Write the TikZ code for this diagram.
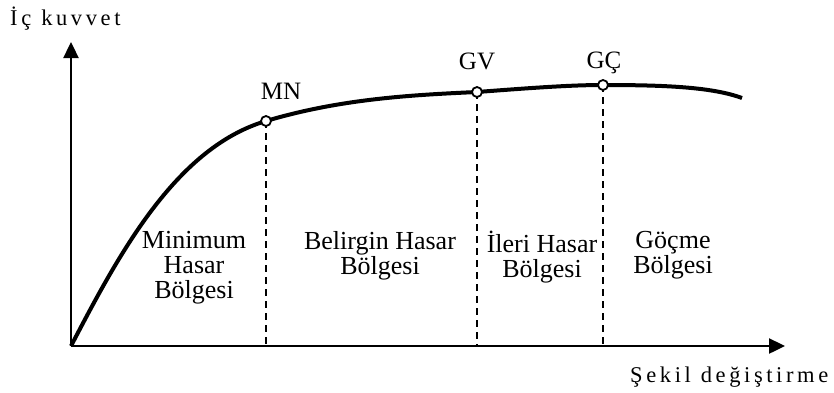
\documentclass[tikz,border=0pt]{standalone}
\usepackage{fontspec}
\setmainfont{Liberation Serif}
\usetikzlibrary{arrows.meta, positioning, calc}

% spread the letters of one word
\makeatletter
\newcommand{\spreadword}[1]{\@tfor\ch:=#1\do{\ch\kern3.6pt}\unkern}
\makeatother

\tikzset{
  axis/.style={line width=2.4pt, -{Triangle[length=16pt,width=15pt]}},
  curve/.style={line width=4pt},
  guide/.style={line width=1.3pt, dash pattern=on 7pt off 5pt},
  limitpt/.style={circle, draw, fill=white, line width=1.8pt, minimum size=10pt, inner sep=0pt},
  ptlabel/.style={font=\fontsize{25}{25}\selectfont, anchor=base, inner sep=0pt},
  zonelabel/.style={font=\fontsize{26}{25}\selectfont, align=center, anchor=north, inner sep=0pt},
  axislabel/.style={font=\fontsize{22.5}{22.5}\selectfont, anchor=base west, inner sep=0pt},
}

\begin{document}
\begin{tikzpicture}[x=1pt, y=-1pt]
    \useasboundingbox (0,0) rectangle (834,392);

    % Axes
    \coordinate (O) at (71,346);
    \coordinate (ytip) at (71,42);
    \coordinate (xtip) at (785,346);
    \draw[axis] (O) -- (ytip);
    \draw[axis] (O) -- (xtip);
    \node[axislabel] (ylab) at (10,25) {\spreadword{İç}\hspace{10pt}\spreadword{kuvvet}};
    \node[axislabel] (xlab) at (630,382) {\spreadword{Şekil}\hspace{10pt}\spreadword{değiştirme}};

    % Capacity curve
    \coordinate (mn) at (266,121);
    \coordinate (gv) at (477,92);
    \coordinate (gc) at (603,85);
    \coordinate (cend) at (742,98);
    \draw[curve] (O) .. controls (118,256) and (175,148) .. (mn)
        .. controls (340,99) and (410,95) .. (gv)
        .. controls (530,88) and (570,85) .. (gc)
        .. controls (665,85) and (712,87) .. (cend);

    % Performance levels
    \foreach \p in {mn, gv, gc} {
        \draw[guide] (\p) -- (\p |- O);
        \node[limitpt] (\p pt) at (\p) {};
    }
    \node[ptlabel] (mnlab) at (281,99) {MN};
    \node[ptlabel] (gvlab) at (477,69) {GV};
    \node[ptlabel] (gclab) at (604,68) {GÇ};

    % Damage zones
    \foreach \x/\txt [count=\i] in {194/Minimum\\Hasar\\Bölgesi, 380/Belirgin Hasar\\Bölgesi,
                                    542/İleri Hasar\\Bölgesi, 673/Göçme\\Bölgesi} {
        \node[zonelabel] (zone\i) at (\x,231) {\txt};
    }
\end{tikzpicture}
\end{document}
